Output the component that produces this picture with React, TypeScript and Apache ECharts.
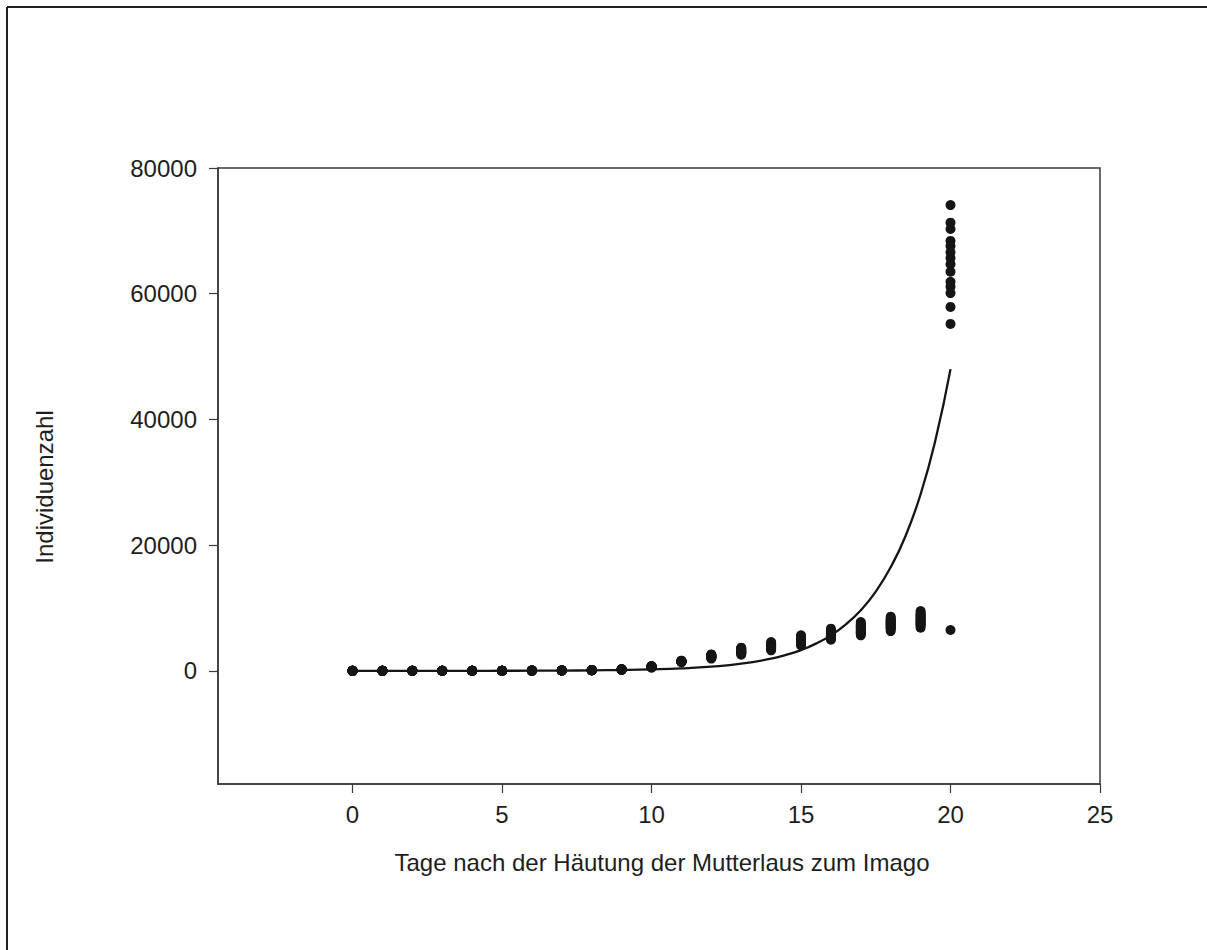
import React, { useEffect, useRef } from "react";
import * as echarts from "echarts";

const days = [0, 1, 2, 3, 4, 5, 6, 7, 8, 9, 10, 11, 12, 13, 14, 15, 16, 17, 18, 19, 20];
const countsByDay: number[][] = [
  [1, 1, 1, 1, 1, 1, 1, 1, 1, 1, 1, 1, 1, 1],
  [3, 4, 5, 4, 6, 5, 3, 4, 5, 6, 4, 5, 5, 4],
  [8, 10, 9, 11, 12, 9, 8, 10, 11, 9, 10, 12, 9, 10],
  [14, 16, 18, 15, 17, 19, 16, 14, 18, 17, 15, 16, 18, 17],
  [20, 24, 26, 22, 25, 27, 23, 21, 24, 26, 22, 25, 23, 24],
  [28, 32, 35, 30, 33, 36, 31, 29, 34, 33, 30, 32, 35, 31],
  [38, 44, 48, 41, 45, 50, 42, 40, 46, 47, 43, 44, 49, 41],
  [55, 65, 72, 60, 68, 75, 62, 58, 70, 66, 63, 69, 74, 61],
  [85, 110, 125, 95, 115, 130, 100, 90, 120, 105, 112, 118, 128, 98],
  [150, 210, 250, 180, 230, 270, 200, 170, 240, 220, 190, 260, 205, 235],
  [520, 640, 700, 580, 760, 680, 610, 730, 650, 700, 560, 720, 690, 740],
  [1380, 1450, 1520, 1600, 1480, 1550, 1420, 1580, 1500, 1470, 1530, 1610, 1440, 1560],
  [1950, 2100, 2250, 2400, 2620, 2300, 2180, 2500, 2050, 2350, 2450, 2200, 2550, 2280],
  [2580, 2750, 2900, 3100, 3300, 3500, 3690, 3000, 2850, 3200, 3400, 3050, 3600, 2950],
  [3260, 3450, 3650, 3850, 4050, 4250, 4580, 3700, 3950, 4150, 4400, 3550, 4300, 3800],
  [4050, 4300, 4550, 4800, 5050, 5300, 5650, 4450, 4700, 4950, 5200, 5450, 4650, 5100],
  [4960, 5200, 5450, 5700, 5950, 6200, 6450, 6710, 5350, 5600, 5850, 6100, 6350, 5500],
  [5650, 5950, 6250, 6550, 6850, 7150, 7450, 7760, 6050, 6400, 6700, 7000, 7300, 6150],
  [6330, 6650, 6950, 7250, 7550, 7850, 8150, 8620, 6800, 7100, 7400, 7700, 8000, 8350],
  [6870, 7200, 7550, 7900, 8250, 8600, 8950, 9510, 7350, 7700, 8050, 8400, 8800, 9200],
  [74100, 71300, 70300, 68400, 67600, 66600, 65700, 64700, 63500, 61900, 61100, 60100, 57900, 55200, 6500],
];

// Fitted growth curve
const curveDays = [0, 1, 2, 3, 4, 5, 6, 7, 8, 9, 10, 11, 12, 13, 14, 14.5, 15, 15.5, 16, 16.5, 17, 17.5, 18, 18.5, 19, 19.5, 20];
const curveValues = [1, 2, 3, 6, 10, 16, 28, 46, 80, 135, 230, 390, 670, 1140, 1940, 2540, 3300, 4330, 5650, 7400, 9650, 12600, 16500, 21500, 28100, 36800, 48000];

const xTicks = [0, 5, 10, 15, 20, 25];
const yTicks = [0, 20000, 40000, 60000, 80000];

const xTitle = "Tage nach der Häutung der Mutterlaus zum Imago";
const yTitle = "Individuenzahl";

export default function App() {
  const ref = useRef<HTMLDivElement>(null);

  useEffect(() => {
    document.body.style.margin = "0";
    if (!ref.current) return;
    const chart = echarts.init(ref.current, undefined, { renderer: "svg" });

    const scatterData: number[][] = [];
    days.forEach((d, i) => {
      countsByDay[i].forEach((v) => scatterData.push([d, v]));
    });
    const curveData = curveDays.map((d, i) => [d, curveValues[i]]);

    const font = "'Liberation Sans', Arial, sans-serif";
    const textColor = "#1e1e1e";

    chart.setOption({
      animation: false,
      backgroundColor: "#ffffff",
      grid: {
        left: 218,
        right: 107,
        top: 168,
        bottom: 166,
        show: true,
        borderColor: "#3a3a3a",
        borderWidth: 1.5,
        backgroundColor: "transparent",
      },
      xAxis: {
        type: "value",
        min: -4.5,
        max: 25,
        splitLine: { show: false },
        axisLine: { show: true, onZero: false, lineStyle: { color: "#3a3a3a", width: 1.5 } },
        axisTick: { show: true, inside: false, length: 9, customValues: xTicks, lineStyle: { color: "#3a3a3a", width: 1.2 } },
        axisLabel: {
          customValues: xTicks,
          margin: 18,
          fontSize: 24,
          fontFamily: font,
          color: textColor,
          formatter: (v: number) => String(v),
        },
      },
      yAxis: {
        type: "value",
        min: -18000,
        max: 80000,
        splitLine: { show: false },
        axisLine: { show: true, onZero: false, lineStyle: { color: "#3a3a3a", width: 1.5 } },
        axisTick: { show: true, inside: false, length: 9, customValues: yTicks, lineStyle: { color: "#3a3a3a", width: 1.2 } },
        axisLabel: {
          customValues: yTicks,
          margin: 21,
          fontSize: 24,
          fontFamily: font,
          color: textColor,
          formatter: (v: number) => String(v),
        },
      },
      series: [
        {
          type: "line",
          data: curveData,
          smooth: true,
          showSymbol: false,
          symbol: "none",
          lineStyle: { color: "#151515", width: 2.3 },
          z: 2,
        },
        {
          type: "scatter",
          data: scatterData,
          symbol: "circle",
          symbolSize: 10,
          itemStyle: { color: "#151515", opacity: 1 },
          z: 3,
        },
      ],
      graphic: [
        {
          type: "line",
          shape: { x1: 7, y1: 7, x2: 1207, y2: 7 },
          style: { stroke: "#222", lineWidth: 2 },
        },
        {
          type: "line",
          shape: { x1: 7, y1: 7, x2: 7, y2: 950 },
          style: { stroke: "#222", lineWidth: 2 },
        },
        {
          type: "text",
          x: 662,
          y: 862,
          style: {
            text: xTitle,
            fontSize: 24,
            fontFamily: font,
            fill: textColor,
            textAlign: "center",
            textVerticalAlign: "middle",
          },
        },
        {
          type: "text",
          x: 44,
          y: 487,
          rotation: Math.PI / 2,
          style: {
            text: yTitle,
            fontSize: 24,
            fontFamily: font,
            fill: textColor,
            textAlign: "center",
            textVerticalAlign: "middle",
          },
        },
      ],
    });

    return () => {
      chart.dispose();
    };
  }, []);

  return <div ref={ref} style={{ width: 1207, height: 950 }} />;
}
